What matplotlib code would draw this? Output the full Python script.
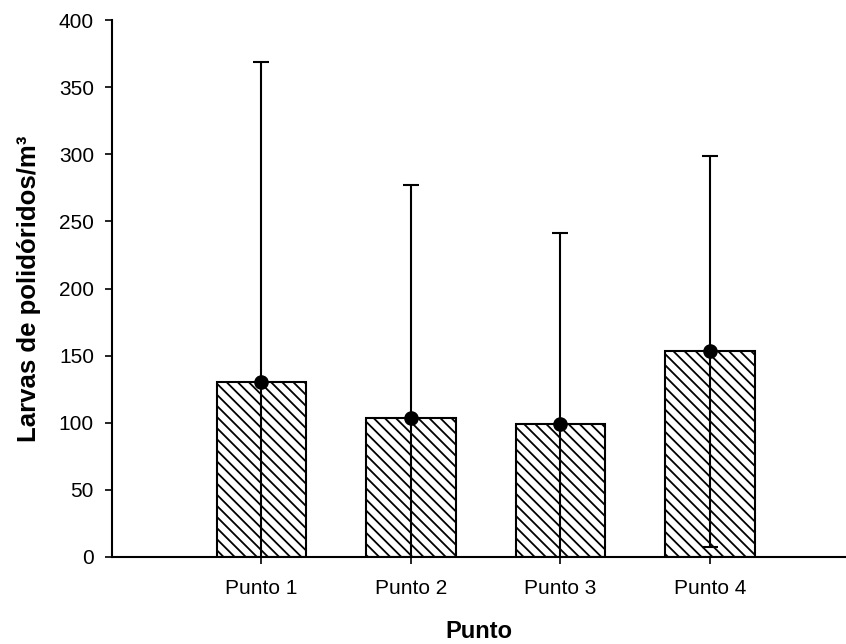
import matplotlib
matplotlib.use("Agg")
import matplotlib.pyplot as plt
import numpy as np

categories = ["Punto 1", "Punto 2", "Punto 3", "Punto 4"]
means = [130.0, 103.5, 98.8, 153.4]
sd = [238.5, 173.8, 142.5, 145.6]

plt.rcParams['font.family'] = ['Liberation Sans', 'DejaVu Sans']
plt.rcParams['hatch.linewidth'] = 1.3

fig = plt.figure(figsize=(8.46, 6.44), dpi=100)
ax = fig.add_axes([112/846, 1-557/644, 1-112/846, (557-20)/644])

x = np.arange(len(categories))
ax.bar(x, means, width=0.6, facecolor='white', edgecolor='black',
       linewidth=1.5, hatch='\\\\\\', zorder=2)
ax.errorbar(x, means, yerr=sd, fmt='o', color='black', markersize=9.5,
            elinewidth=1.5, capsize=6, capthick=1.5, zorder=3)

ax.set_xlim(-1.0, 3.91)
ax.set_ylim(0, 400)
ax.set_yticks(np.arange(0, 401, 50))
ax.set_xticks(x)
ax.set_xticklabels(categories)
for s in ['top', 'right']:
    ax.spines[s].set_visible(False)
for s in ['left', 'bottom']:
    ax.spines[s].set_linewidth(1.5)
ax.tick_params(axis='both', direction='out', length=5, width=1.2,
               labelsize=15)
ax.tick_params(axis='x', pad=11)
ax.tick_params(axis='y', pad=8)
ax.set_ylabel('Larvas de polidóridos/m³', fontsize=18.5, fontweight='bold',
              labelpad=13)
ax.set_xlabel('Punto', fontsize=17, fontweight='bold', labelpad=16)

fig.savefig('out.png', dpi=100)
